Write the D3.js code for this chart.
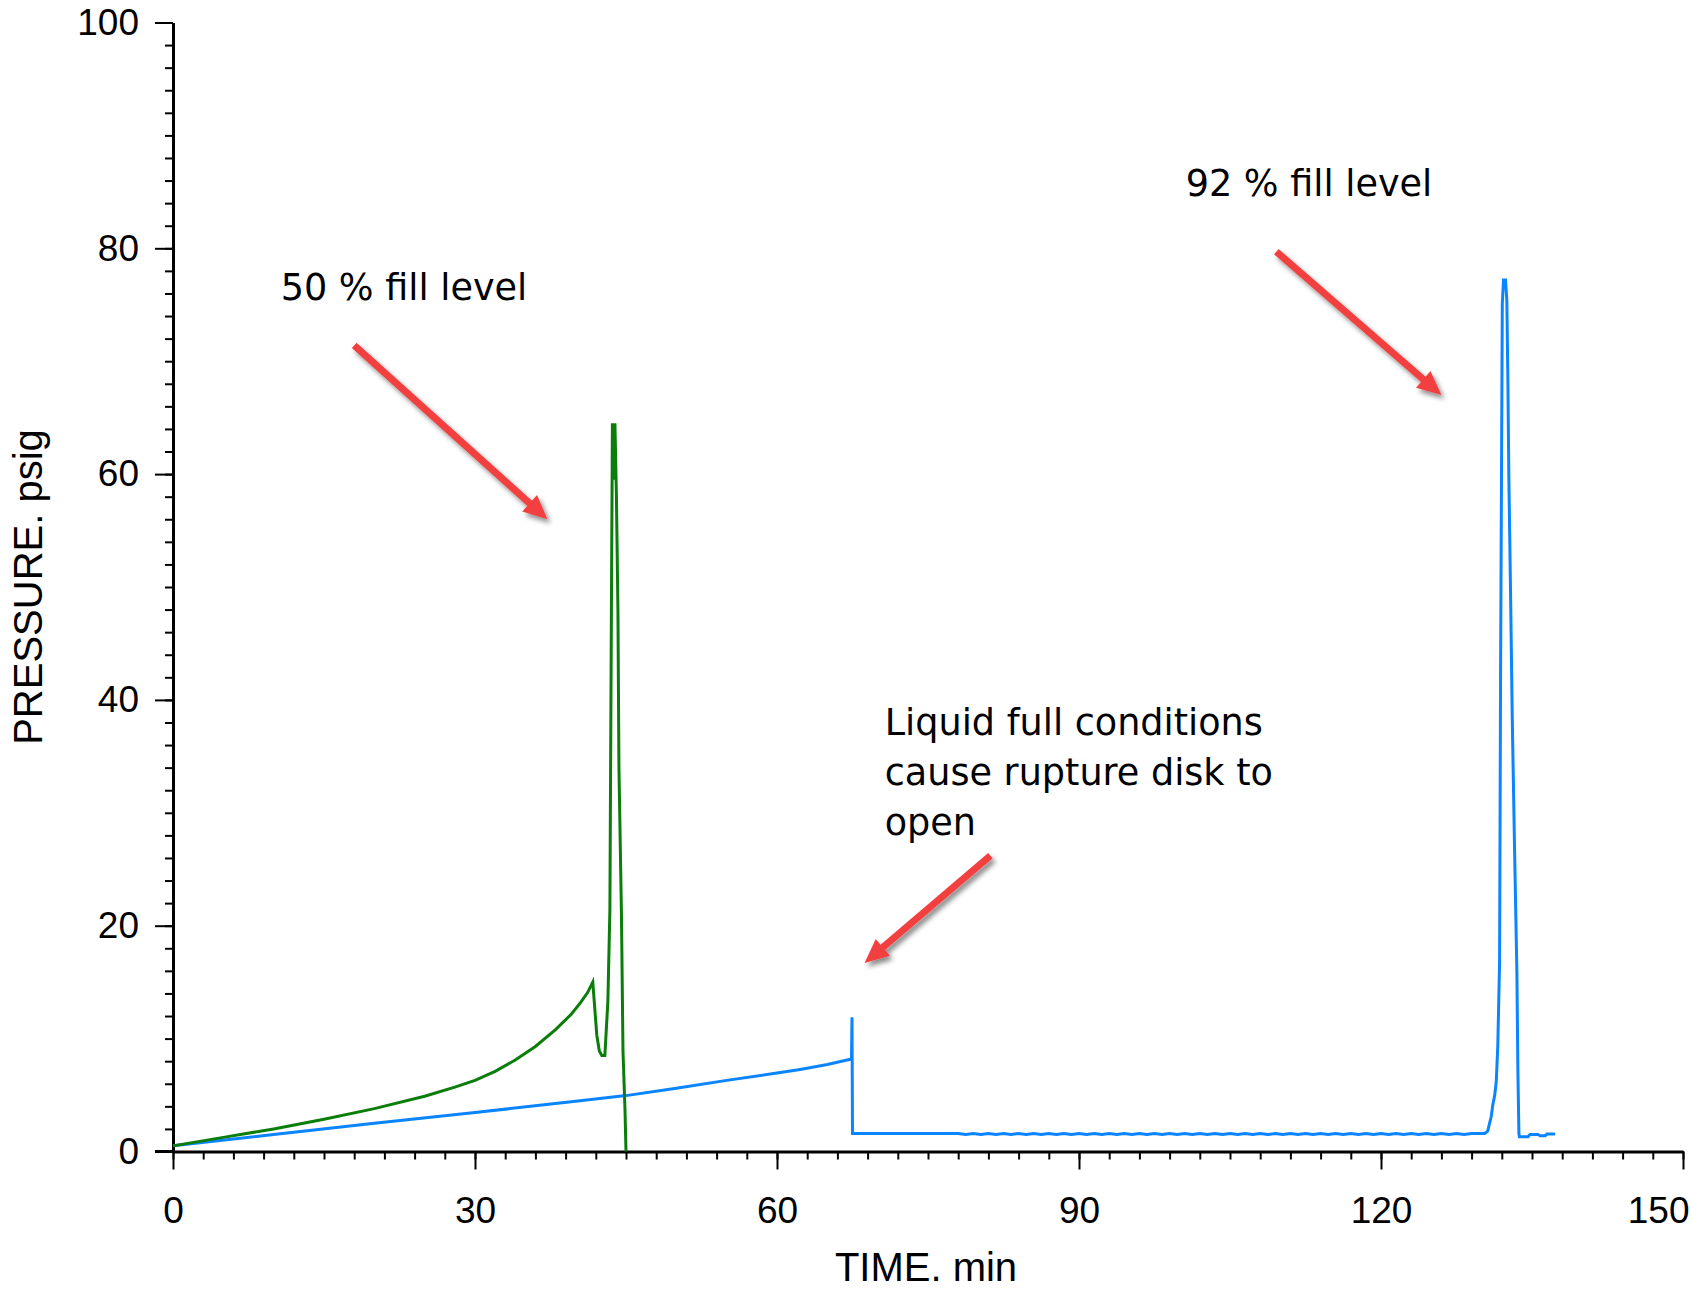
<!DOCTYPE html>
<html>
<head>
<meta charset="utf-8">
<script src="https://cdn.jsdelivr.net/npm/d3@7"></script>
<style>
  html, body { margin: 0; padding: 0; background: #ffffff; }
  svg { display: block; }
</style>
</head>
<body>
<svg id="chart" width="1691" height="1290"></svg>
<script>
// Vessel pressure during a runaway test, two fill levels (TIME in min, PRESSURE in psig)
const xTicks = [0, 30, 60, 90, 120, 150];
const yTicks = [0, 20, 40, 60, 80, 100];

// 50 % fill level
const fill50Time = [0, 5, 10, 15, 20, 25, 28, 30, 32, 34, 36, 38, 39.5, 40.5, 41.2, 41.7, 42.1, 42.35, 42.6, 42.9, 43.2, 43.4, 43.55, 43.65, 43.75, 43.9, 44.05, 44.2, 44.3, 44.55, 44.7, 44.9, 45.0];
const fill50Pres = [0.5, 1.25, 2.0, 2.85, 3.8, 4.9, 5.7, 6.3, 7.1, 8.1, 9.3, 10.8, 12.1, 13.2, 14.1, 15.0, 10.3, 8.9, 8.5, 8.5, 13.3, 21.4, 48.0, 64.5, 59.5, 64.5, 58.0, 47.8, 34.0, 20.9, 8.9, 3.7, 0];

// 92 % fill level
const fill92Time = [0, 10, 20, 30, 40, 45, 50, 55, 60, 62.3, 65, 67.4, 67.45, 67.5, 78,
  78.75, 79.5, 80.25, 81, 81.75, 82.5, 83.25, 84, 84.75, 85.5, 86.25, 87, 87.75, 88.5, 89.25, 90,
  90.75, 91.5, 92.25, 93, 93.75, 94.5, 95.25, 96, 96.75, 97.5, 98.25, 99, 99.75, 100.5, 101.25, 102,
  102.75, 103.5, 104.25, 105, 105.75, 106.5, 107.25, 108, 108.75, 109.5, 110.25, 111, 111.75, 112.5,
  113.25, 114, 114.75, 115.5, 116.25, 117, 117.75, 118.5, 119.25, 120, 120.75, 121.5, 122.25, 123,
  123.75, 124.5, 125.25, 126, 126.75, 127.5, 128.25, 129,
  130.3, 130.6, 130.95, 131.1, 131.3, 131.45, 131.6, 131.78, 131.88, 132.05, 132.17, 132.37, 132.5,
  132.6, 132.7, 132.87, 133.04, 133.27, 133.5, 133.6, 133.7, 133.75, 134.6, 134.8, 135.6, 135.8,
  136.3, 136.5, 137.3];
const fill92Pres = [0.5, 1.5, 2.5, 3.45, 4.45, 4.95, 5.6, 6.3, 6.95, 7.27, 7.7, 8.19, 11.9, 1.6, 1.6,
  1.5, 1.6, 1.5, 1.6, 1.5, 1.6, 1.5, 1.6, 1.5, 1.6, 1.5, 1.6, 1.5, 1.6, 1.5, 1.6,
  1.5, 1.6, 1.5, 1.6, 1.5, 1.6, 1.5, 1.6, 1.5, 1.6, 1.5, 1.6, 1.5, 1.6, 1.5, 1.6,
  1.5, 1.6, 1.5, 1.6, 1.5, 1.6, 1.5, 1.6, 1.5, 1.6, 1.5, 1.6, 1.5, 1.6,
  1.5, 1.6, 1.5, 1.6, 1.5, 1.6, 1.5, 1.6, 1.5, 1.6, 1.5, 1.6, 1.5, 1.6,
  1.5, 1.6, 1.5, 1.6, 1.5, 1.6, 1.5, 1.6,
  1.6, 1.8, 3.1, 4.1, 5.0, 6.2, 9.3, 16.8, 42.7, 75.1, 77.2, 77.2, 75.4,
  68.6, 59.8, 49.5, 38.3, 26.7, 15.8, 7.0, 1.6, 1.3, 1.3, 1.5, 1.5, 1.4,
  1.4, 1.55, 1.55];

// Callout texts and arrows, placed in data units (min, psig)
const noteText = [
  { t: 10.7, p: 75.4, lines: ["50 % fill level"] },
  { t: 100.6, p: 84.6, lines: ["92 % fill level"] },
  { t: 70.7, p: 36.9, lines: ["Liquid full conditions", "cause rupture disk to", "open"] }
];
const noteArrows = [
  { t0: 18.0, p0: 71.4, t1: 37.2, p1: 56.0 },
  { t0: 109.6, p0: 79.7, t1: 126.0, p1: 67.0 },
  { t0: 81.2, p0: 26.2, t1: 68.7, p1: 16.7 }
];

(function () {
  const svg = d3.select("#chart");
  const plotLeft = 173, plotRight = 1683, plotTop = 22.5, plotBottom = 1151.5;

  const x = d3.scaleLinear().domain([0, 150]).range([plotLeft, plotRight]);
  const y = d3.scaleLinear().domain([0, 100]).range([plotBottom, plotTop]);

  const tickFont = "'Liberation Sans', Arial, sans-serif";
  const noteFont = "'DejaVu Sans', Verdana, sans-serif";

  // drop shadow for the callout arrows
  const defs = svg.append("defs");
  const f = defs.append("filter").attr("id", "shadow")
    .attr("x", "-20%").attr("y", "-20%").attr("width", "140%").attr("height", "140%");
  f.append("feDropShadow").attr("dx", 3).attr("dy", 4).attr("stdDeviation", 2.5)
    .attr("flood-color", "#000").attr("flood-opacity", 0.45);

  // minor ticks
  const minorX = d3.range(0, 151, 3);
  const minorY = d3.range(0, 101, 2);
  svg.append("g").attr("transform", `translate(0,${plotBottom})`)
    .call(d3.axisBottom(x).tickValues(minorX).tickSize(8).tickSizeOuter(0).tickFormat(""))
    .call(g => g.select(".domain").remove())
    .call(g => g.selectAll("line").attr("stroke", "#000").attr("stroke-width", 2));
  svg.append("g").attr("transform", `translate(${plotLeft},0)`)
    .call(d3.axisLeft(y).tickValues(minorY).tickSize(8).tickSizeOuter(0).tickFormat(""))
    .call(g => g.select(".domain").remove())
    .call(g => g.selectAll("line").attr("stroke", "#000").attr("stroke-width", 2));

  // major ticks and labels
  const xAxis = svg.append("g").attr("transform", `translate(0,${plotBottom})`)
    .call(d3.axisBottom(x).tickValues(xTicks).tickSize(18).tickSizeOuter(0).tickPadding(27).tickFormat(d3.format("d")));
  xAxis.select(".domain").attr("stroke", "#000").attr("stroke-width", 3);
  xAxis.selectAll("line").attr("stroke", "#000").attr("stroke-width", 2);
  xAxis.selectAll("text").attr("font-family", tickFont).attr("font-size", 37).attr("fill", "#000");
  xAxis.selectAll(".tick").filter(d => d === 150).select("text")
    .attr("text-anchor", "end").attr("x", 6);

  const yAxis = svg.append("g").attr("transform", `translate(${plotLeft},0)`)
    .call(d3.axisLeft(y).tickValues(yTicks).tickSize(18).tickSizeOuter(0).tickPadding(16).tickFormat(d3.format("d")));
  yAxis.select(".domain").attr("stroke", "#000").attr("stroke-width", 3);
  yAxis.selectAll("line").attr("stroke", "#000").attr("stroke-width", 2);
  yAxis.selectAll("text").attr("font-family", tickFont).attr("font-size", 37).attr("fill", "#000");

  // extend x-axis line to the left under the y-axis zero tick
  svg.append("line").attr("x1", x(0) - 18).attr("x2", x(0)).attr("y1", y(0)).attr("y2", y(0))
    .attr("stroke", "#000").attr("stroke-width", 3);

  // axis titles
  svg.append("text").attr("x", 926).attr("y", 1281)
    .attr("text-anchor", "middle").attr("font-family", tickFont).attr("font-size", 40)
    .attr("fill", "#000").text("TIME. min");
  svg.append("text").attr("transform", `translate(42,587) rotate(-90)`)
    .attr("text-anchor", "middle").attr("font-family", tickFont).attr("font-size", 40)
    .attr("fill", "#000").text("PRESSURE. psig");

  // curves
  const line = d3.line().x(d => x(d[0])).y(d => y(d[1]));
  const s92 = fill92Time.map((t, i) => [t, fill92Pres[i]]);
  const s50 = fill50Time.map((t, i) => [t, fill50Pres[i]]);
  svg.append("path").datum(s92).attr("d", line)
    .attr("fill", "none").attr("stroke", "#0a84ff").attr("stroke-width", 3).attr("stroke-linejoin", "miter");
  svg.append("path").datum(s50).attr("d", line)
    .attr("fill", "none").attr("stroke", "#0a7d0a").attr("stroke-width", 3).attr("stroke-linejoin", "miter");

  // callout texts
  noteText.forEach(n => {
    const t = svg.append("text").attr("x", x(n.t)).attr("y", y(n.p))
      .attr("font-family", noteFont).attr("font-size", 36.6).attr("fill", "#000");
    n.lines.forEach((s, i) => {
      t.append("tspan").attr("x", x(n.t)).attr("dy", i === 0 ? 0 : 50).text(s);
    });
  });

  // callout arrows
  noteArrows.forEach(a => {
    const x0 = x(a.t0), y0 = y(a.p0), x1 = x(a.t1), y1 = y(a.p1);
    const ang = Math.atan2(y1 - y0, x1 - x0);
    const headLen = 24, headHalf = 11;
    const bx = x1 - headLen * Math.cos(ang), by = y1 - headLen * Math.sin(ang);
    const g = svg.append("g").attr("filter", "url(#shadow)");
    g.append("line").attr("x1", x0).attr("y1", y0)
      .attr("x2", bx + 2 * Math.cos(ang)).attr("y2", by + 2 * Math.sin(ang))
      .attr("stroke", "#f2403f").attr("stroke-width", 7);
    const px = -Math.sin(ang), py = Math.cos(ang);
    g.append("polygon")
      .attr("points", [[x1, y1], [bx + px * headHalf, by + py * headHalf], [bx - px * headHalf, by - py * headHalf]]
        .map(p => p.join(",")).join(" "))
      .attr("fill", "#f2403f");
  });
})();
</script>
</body>
</html>
